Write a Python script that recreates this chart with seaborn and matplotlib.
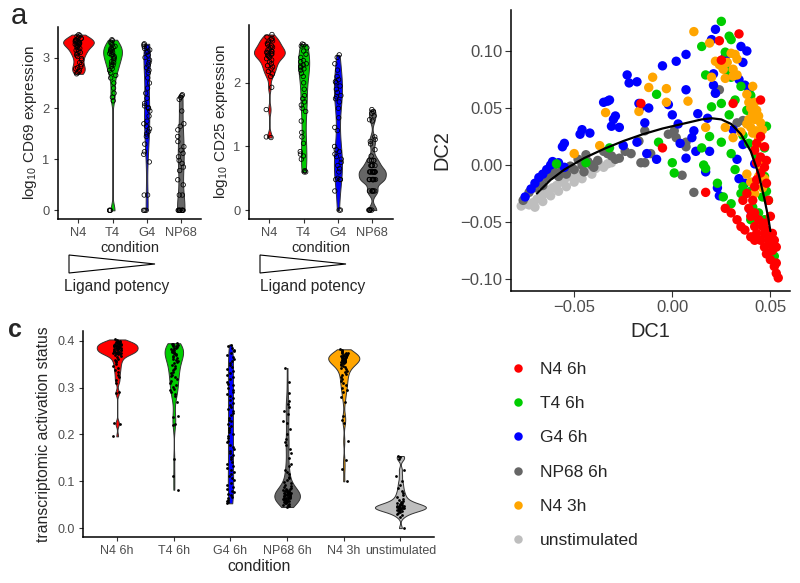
import matplotlib
matplotlib.use("Agg")
import matplotlib.pyplot as plt
import numpy as np
import pandas as pd
import seaborn as sns
from matplotlib.patches import Polygon

# ---------------- data ----------------
potency = ["N4", "T4", "G4", "NP68"]
potency_colors = ["#FF0000", "#00CD00", "#0000FF", "#666666"]

# panel a, log10 CD69
cd69_n4 = [3.45, 3.43, 3.42, 3.40, 3.38, 3.37, 3.35, 3.34, 3.33, 3.32, 3.31, 3.30, 3.30,
           3.29, 3.28, 3.27, 3.26, 3.25, 3.24, 3.22, 3.20, 3.18, 3.16, 3.14, 3.12, 3.10,
           3.08, 3.05, 3.02, 2.98, 2.95, 2.90, 2.86, 2.82, 2.80, 2.78, 2.75, 2.72, 2.70, 2.68]
cd69_t4 = [3.35, 3.33, 3.30, 3.28, 3.25, 3.22, 3.20, 3.18, 3.16, 3.15, 3.13, 3.12, 3.10,
           3.08, 3.06, 3.05, 3.03, 3.00, 2.98, 2.95, 2.92, 2.90, 2.87, 2.85, 2.82, 2.78,
           2.75, 2.70, 2.65, 2.60, 2.50, 2.40, 2.30, 2.22, 2.15, 0.0, 0.0, 0.0]
cd69_g4 = [3.27, 3.25, 3.22, 3.20, 3.18, 3.15, 3.12, 3.10, 3.05, 3.00, 2.95, 2.90, 2.85,
           2.80, 2.75, 2.70, 2.60, 2.50, 2.40, 2.30, 2.20, 2.10, 2.05, 2.02, 2.00, 1.95,
           1.85, 1.75, 1.70, 1.65, 1.60, 1.55, 1.50, 1.45, 1.30, 1.15, 1.10, 0.95, 0.30,
           0.30, 0.0, 0.0, 0.0]
cd69_np68 = [2.27, 2.25, 2.22, 2.18, 1.95, 1.70, 1.65, 1.58, 1.45, 1.35, 1.25, 1.18, 1.12,
             1.05, 0.98, 0.92, 0.85, 0.78, 0.60, 0.50, 0.30, 0.30, 0.0, 0.0, 0.0, 0.0, 0.0,
             0.0, 0.0, 0.0, 0.0]

# panel a, log10 CD25
cd25_n4 = [2.76, 2.72, 2.70, 2.68, 2.66, 2.64, 2.62, 2.60, 2.58, 2.56, 2.55, 2.53, 2.52,
           2.50, 2.49, 2.48, 2.47, 2.46, 2.45, 2.44, 2.43, 2.42, 2.40, 2.38, 2.36, 2.33,
           2.30, 2.27, 2.25, 2.22, 2.18, 2.14, 2.10, 1.93, 1.58, 1.15, 1.14]
cd25_t4 = [2.61, 2.60, 2.58, 2.55, 2.50, 2.45, 2.40, 2.35, 2.33, 2.30, 2.28, 2.26, 2.24,
           2.22, 2.20, 2.15, 2.10, 2.00, 1.90, 1.80, 1.75, 1.70, 1.65, 1.60, 1.55, 1.40,
           1.22, 1.15, 1.05, 0.92, 0.88, 0.85, 0.80, 0.62, 0.60, 0.60]
cd25_g4 = [2.44, 2.40, 2.30, 2.20, 2.10, 2.05, 2.02, 2.00, 1.95, 1.90, 1.85, 1.80, 1.78,
           1.75, 1.70, 1.60, 1.45, 1.30, 1.25, 1.00, 0.95, 0.92, 0.88, 0.84, 0.80, 0.75,
           0.70, 0.65, 0.60, 0.50, 0.48, 0.48, 0.48, 0.30, 0.0, 0.0]
cd25_np68 = [1.58, 1.55, 1.52, 1.48, 1.42, 1.40, 1.15, 1.11, 1.08, 1.04, 0.95, 0.85,
             0.78, 0.78, 0.78, 0.78, 0.70, 0.70, 0.70, 0.70, 0.70, 0.60, 0.60, 0.60, 0.60,
             0.60, 0.60, 0.60, 0.60, 0.60, 0.60, 0.60, 0.60, 0.48, 0.48, 0.48, 0.48, 0.48,
             0.48, 0.48, 0.48, 0.48, 0.48, 0.48, 0.48, 0.30, 0.30, 0.30, 0.30, 0.30, 0.30,
             0.0, 0.0, 0.0, 0.0, 0.0]

# panel c, transcriptomic activation status
conditions = ["N4 6h", "T4 6h", "G4 6h", "NP68 6h", "N4 3h", "unstimulated"]
condition_colors = ["#FF0000", "#00CD00", "#0000FF", "#666666", "#FFA500", "#BEBEBE"]

act_n4_6h = [0.403, 0.401, 0.400, 0.399, 0.398, 0.397, 0.397, 0.396, 0.395, 0.395, 0.394,
             0.393, 0.393, 0.392, 0.391, 0.391, 0.390, 0.389, 0.389, 0.388, 0.387, 0.387,
             0.386, 0.385, 0.385, 0.384, 0.383, 0.383, 0.382, 0.381, 0.381, 0.380, 0.379,
             0.379, 0.378, 0.377, 0.377, 0.376, 0.375, 0.375, 0.374, 0.373, 0.373, 0.372,
             0.371, 0.370, 0.368, 0.365, 0.362, 0.360, 0.357, 0.354, 0.350, 0.346, 0.342,
             0.338, 0.333, 0.328, 0.322, 0.316, 0.311, 0.290, 0.288, 0.225, 0.222, 0.196]
act_t4_6h = [0.395, 0.394, 0.393, 0.392, 0.391, 0.389, 0.388, 0.387, 0.385, 0.384, 0.383,
             0.381, 0.380, 0.379, 0.377, 0.376, 0.375, 0.373, 0.372, 0.371, 0.369, 0.367,
             0.365, 0.363, 0.361, 0.359, 0.357, 0.355, 0.352, 0.349, 0.346, 0.343, 0.340,
             0.337, 0.334, 0.331, 0.328, 0.325, 0.322, 0.318, 0.314, 0.310, 0.306, 0.302,
             0.298, 0.294, 0.290, 0.286, 0.282, 0.270, 0.240, 0.238, 0.222, 0.220, 0.148,
             0.112, 0.082]
act_g4_6h = [0.392, 0.389, 0.385, 0.381, 0.378, 0.373, 0.370, 0.366, 0.361, 0.357, 0.352,
             0.349, 0.344, 0.339, 0.335, 0.331, 0.326, 0.322, 0.318, 0.313, 0.308, 0.305,
             0.300, 0.296, 0.291, 0.287, 0.282, 0.277, 0.273, 0.268, 0.264, 0.259, 0.255,
             0.250, 0.246, 0.241, 0.236, 0.232, 0.228, 0.223, 0.219, 0.214, 0.210, 0.205,
             0.201, 0.196, 0.192, 0.187, 0.183, 0.178, 0.174, 0.169, 0.165, 0.160, 0.156,
             0.151, 0.147, 0.142, 0.138, 0.133, 0.129, 0.124, 0.120, 0.115, 0.111, 0.106,
             0.102, 0.097, 0.093, 0.088, 0.084, 0.080, 0.077, 0.073, 0.070, 0.067, 0.064,
             0.061, 0.058, 0.055, 0.053]
act_np68_6h = [0.342, 0.312, 0.288, 0.272, 0.265, 0.258, 0.250, 0.243, 0.228, 0.225, 0.212,
               0.200, 0.190, 0.185, 0.178, 0.168, 0.160, 0.150, 0.138, 0.132, 0.125, 0.120,
               0.115, 0.110, 0.106, 0.102, 0.099, 0.096, 0.093, 0.090, 0.088, 0.086, 0.084,
               0.083, 0.082, 0.081, 0.080, 0.079, 0.078, 0.077, 0.077, 0.076, 0.075, 0.074,
               0.074, 0.073, 0.072, 0.072, 0.071, 0.070, 0.070, 0.069, 0.068, 0.068, 0.067,
               0.066, 0.066, 0.065, 0.064, 0.064, 0.063, 0.062, 0.062, 0.061, 0.060, 0.060,
               0.059, 0.058, 0.057, 0.056, 0.055, 0.054, 0.053, 0.052, 0.050, 0.049, 0.047,
               0.045]
act_n4_3h = [0.382, 0.380, 0.378, 0.376, 0.375, 0.374, 0.373, 0.372, 0.371, 0.370, 0.369,
             0.368, 0.368, 0.367, 0.366, 0.365, 0.365, 0.364, 0.363, 0.362, 0.362, 0.361,
             0.360, 0.359, 0.359, 0.358, 0.357, 0.356, 0.356, 0.355, 0.354, 0.353, 0.352,
             0.350, 0.348, 0.346, 0.344, 0.342, 0.339, 0.336, 0.333, 0.330, 0.326, 0.322,
             0.318, 0.314, 0.310, 0.305, 0.300, 0.295, 0.290, 0.280, 0.270, 0.240, 0.232,
             0.225, 0.186, 0.145, 0.127, 0.100]
act_unstim = [0.154, 0.151, 0.147, 0.125, 0.112, 0.100, 0.092, 0.085, 0.079, 0.074, 0.070,
              0.066, 0.063, 0.060, 0.058, 0.056, 0.054, 0.053, 0.052, 0.051, 0.050, 0.049,
              0.048, 0.047, 0.047, 0.046, 0.045, 0.045, 0.044, 0.044, 0.043, 0.043, 0.042,
              0.041, 0.041, 0.040, 0.039, 0.038, 0.037, 0.036, 0.035, 0.033, 0.031, 0.028,
              0.024, 0.0]

# diffusion map (DC1, DC2) per condition
dc_n4_6h = [(0.027, -0.038), (0.030, -0.042), (0.033, -0.048), (0.035, -0.054), (0.039, -0.038),
            (0.040, -0.045), (0.042, -0.054), (0.043, -0.060), (0.045, -0.066), (0.047, -0.072),
            (0.048, -0.078), (0.050, -0.083), (0.052, -0.089), (0.053, -0.095), (0.054, -0.099),
            (0.053, -0.086), (0.051, -0.075), (0.049, -0.066), (0.047, -0.060), (0.046, -0.054),
            (0.044, -0.048), (0.042, -0.042), (0.041, -0.031), (0.042, -0.019), (0.043, -0.013),
            (0.045, -0.007), (0.047, -0.002), (0.048, 0.004), (0.042, 0.013), (0.043, 0.019),
            (0.045, 0.025), (0.047, 0.016), (0.045, 0.007), (0.043, 0.002), (0.048, -0.016),
            (0.049, -0.031), (0.050, -0.045), (0.051, -0.060), (0.052, -0.066), (0.053, -0.072),
            (0.050, -0.069), (0.048, -0.057), (0.047, -0.051), (0.037, -0.057), (0.040, -0.063),
            (0.042, -0.066), (0.036, -0.031), (0.038, -0.025), (0.034, 0.115), (0.024, 0.109),
            (0.025, 0.092), (0.031, 0.054), (-0.016, 0.054), (-0.005, 0.015), (0.017, -0.024),
            (0.045, 0.057)]
dc_t4_6h = [(0.025, 0.126), (0.029, 0.113), (0.030, 0.110), (0.015, 0.104), (0.027, 0.099),
            (0.028, 0.083), (0.017, 0.079), (0.030, 0.077), (0.035, 0.069), (0.040, 0.061),
            (-0.008, 0.062), (0.020, 0.051), (0.025, 0.054), (0.032, 0.057), (0.038, 0.048),
            (0.029, 0.044), (-0.007, 0.020), (0.000, 0.002), (0.001, -0.007), (0.015, 0.015),
            (0.019, 0.025), (0.025, 0.020), (0.030, 0.010), (0.016, 0.000), (0.017, -0.003),
            (0.023, -0.016), (0.026, -0.028), (0.030, -0.034), (0.035, -0.025), (0.036, -0.019),
            (0.032, -0.004), (0.043, 0.007), (0.047, 0.015), (0.047, -0.010), (0.048, -0.023),
            (0.049, -0.031), (0.044, -0.042), (0.041, -0.037), (0.050, -0.064), (0.052, -0.080),
            (0.040, -0.023), (0.046, -0.028), (0.040, -0.048), (0.047, -0.048), (-0.059, 0.001),
            (-0.044, 0.002), (-0.032, 0.015), (0.045, 0.029), (0.039, 0.019), (0.048, 0.034),
            (0.036, 0.026)]
dc_g4_6h = [(-0.075, -0.028), (-0.072, -0.021), (-0.070, -0.016), (-0.068, -0.011), (-0.066, -0.008),
            (-0.064, -0.004), (-0.062, 0.000), (-0.061, 0.003), (-0.058, 0.002), (-0.055, -0.002),
            (-0.056, 0.016), (-0.055, 0.019), (-0.047, 0.027), (-0.046, 0.031), (-0.042, 0.028),
            (-0.033, 0.056), (-0.032, 0.057), (-0.035, 0.055), (-0.029, 0.043), (-0.031, 0.034),
            (-0.030, 0.040), (-0.027, 0.033), (-0.025, 0.017), (-0.023, 0.079), (-0.022, 0.072),
            (-0.018, 0.073), (-0.017, 0.054), (-0.016, 0.051), (-0.012, 0.050), (-0.014, 0.037),
            (-0.018, 0.020), (-0.013, 0.010), (-0.005, 0.087), (0.002, 0.091), (0.007, 0.097),
            (0.007, 0.066), (-0.002, 0.053), (0.000, 0.044), (0.003, 0.036), (0.004, 0.019),
            (0.010, 0.024), (0.011, 0.030), (0.013, 0.045), (0.007, 0.006), (0.012, 0.012),
            (0.019, 0.012), (0.018, 0.041), (0.017, -0.006), (-0.008, 0.005), (0.021, 0.080),
            (0.021, 0.070), (0.022, 0.063), (0.026, 0.085), (0.027, 0.095), (0.022, 0.119),
            (0.020, 0.110), (0.035, 0.104), (0.036, 0.090), (0.038, 0.100), (0.034, 0.075),
            (0.037, 0.070), (0.039, 0.065), (0.036, 0.018), (0.033, 0.005), (0.034, -0.012),
            (0.037, -0.016), (0.023, -0.020), (0.024, -0.027), (0.042, 0.001), (0.031, 0.031),
            (0.040, -0.040)]
dc_np68_6h = [(-0.076, -0.031), (-0.073, -0.024), (-0.070, -0.020), (-0.068, -0.014), (-0.066, -0.018),
              (-0.064, -0.011), (-0.062, -0.009), (-0.060, -0.006), (-0.058, -0.010), (-0.056, -0.004),
              (-0.054, -0.008), (-0.052, -0.001), (-0.050, -0.004), (-0.048, 0.005), (-0.046, 0.000),
              (-0.045, -0.006), (-0.043, 0.003), (-0.041, 0.000), (-0.040, -0.002), (-0.038, 0.004),
              (-0.035, 0.012), (-0.033, 0.010), (-0.031, 0.008), (-0.029, 0.005), (-0.027, 0.006),
              (-0.017, 0.021), (-0.014, 0.030), (-0.011, 0.010), (-0.016, 0.002), (-0.014, 0.002),
              (0.001, 0.030), (-0.002, 0.027), (0.002, 0.024), (0.007, 0.020), (0.007, 0.016),
              (0.005, -0.009), (0.011, -0.024), (0.022, 0.063), (0.024, 0.066), (0.036, 0.039),
              (0.033, 0.037), (-0.021, 0.010), (-0.044, 0.009), (-0.024, 0.012)]
dc_n4_3h = [(0.011, 0.117), (0.019, 0.107), (0.022, 0.091), (0.024, 0.088), (0.026, 0.084),
            (0.030, 0.098), (0.032, 0.097), (0.033, 0.093), (0.031, 0.084), (0.033, 0.079),
            (0.020, 0.077), (0.027, 0.076), (-0.012, 0.068), (-0.010, 0.077), (-0.003, 0.067),
            (0.008, 0.056), (-0.003, 0.055), (-0.017, 0.047), (-0.034, 0.046), (-0.037, 0.017),
            (-0.050, 0.010), (0.017, 0.033), (0.027, 0.033), (0.035, 0.029), (0.031, 0.024),
            (0.038, 0.062), (0.039, 0.055), (0.040, 0.050), (0.041, 0.045), (0.042, 0.040),
            (0.043, 0.048), (0.044, 0.043), (0.045, 0.037), (0.038, 0.036), (0.040, 0.033),
            (0.041, 0.028), (0.043, 0.030), (0.039, 0.040), (0.042, 0.055), (0.046, 0.031),
            (0.044, 0.023), (0.041, 0.069), (0.047, 0.003), (0.045, -0.005), (0.044, -0.010),
            (0.040, -0.015), (0.038, -0.008), (0.046, -0.020), (0.042, -0.025), (0.047, -0.012),
            (0.031, 0.078), (0.028, 0.090), (0.043, 0.018)]
dc_unstim = [(-0.077, -0.036), (-0.075, -0.034), (-0.073, -0.035), (-0.071, -0.033), (-0.069, -0.030),
             (-0.067, -0.028), (-0.065, -0.025), (-0.063, -0.022), (-0.061, -0.020), (-0.059, -0.018),
             (-0.057, -0.015), (-0.055, -0.013), (-0.053, -0.010), (-0.051, -0.008), (-0.049, -0.011),
             (-0.047, -0.006), (-0.045, -0.003), (-0.043, -0.005), (-0.041, -0.008), (-0.039, -0.003),
             (-0.037, 0.000), (-0.035, -0.002), (-0.033, 0.001), (-0.031, 0.002), (-0.070, -0.037),
             (-0.066, -0.032), (-0.062, -0.027), (-0.058, -0.023), (-0.054, -0.019), (-0.050, -0.015),
             (-0.046, -0.012)]

# principal curve through the diffusion map
curve_dc1 = [-0.069, -0.062, -0.055, -0.045, -0.035, -0.025, -0.015, -0.005, 0.005, 0.015,
             0.020, 0.025, 0.030, 0.035, 0.040, 0.044, 0.047, 0.049, 0.050]
curve_dc2 = [-0.025, -0.013, -0.004, 0.006, 0.014, 0.021, 0.027, 0.032, 0.036, 0.040,
             0.041, 0.040, 0.036, 0.027, 0.012, -0.008, -0.030, -0.047, -0.058]

dc_ticks = [-0.05, 0.00, 0.05]
dc_tick_labels = ["\u22120.05", "0.00", "0.05"]
dc2_ticks = [-0.10, -0.05, 0.00, 0.05, 0.10]
dc2_tick_labels = ["\u22120.10", "\u22120.05", "0.00", "0.05", "0.10"]

# ---------------- style ----------------
sns.set_style("ticks")
plt.rcParams["font.family"] = ["Liberation Sans", "DejaVu Sans"]
plt.rcParams["mathtext.fontset"] = "custom"
plt.rcParams["mathtext.rm"] = "Liberation Sans"
plt.rcParams["mathtext.it"] = "Liberation Sans:italic"
plt.rcParams["mathtext.bf"] = "Liberation Sans:bold"
np.random.seed(3)

TICK_GREY = "#4D4D4D"


def nrd0(kde):
    # R's default bandwidth (bw.nrd0) expressed as a factor of the sd
    x = kde.dataset[0]
    sd = x.std(ddof=1)
    iqr = np.subtract(*np.percentile(x, [75, 25]))
    lo = min(sd, iqr / 1.34) if iqr > 0 else sd
    return 0.9 * lo * kde.n ** -0.2 / sd


def style_axis(ax, size, length=3.2, pad=2.8):
    sns.despine(ax=ax)
    for s in ["left", "bottom"]:
        ax.spines[s].set_linewidth(1.1)
        ax.spines[s].set_color("black")
    ax.tick_params(labelsize=size, labelcolor=TICK_GREY, color="#333333",
                   length=length, width=0.8, pad=pad)


def violin_panel(ax, df, order, colors, pt_kw, jitter):
    sns.violinplot(data=df, x="condition", y="value", hue="condition", order=order,
                   hue_order=order, palette=colors, density_norm="area", common_norm=True,
                   cut=0, inner=None, width=0.9, linewidth=0.7, linecolor="#333333",
                   saturation=1, bw_method=nrd0, bw_adjust=0.75, legend=False, ax=ax)
    sns.stripplot(data=df, x="condition", y="value", order=order, color="black",
                  jitter=jitter, ax=ax, **pt_kw)
    ax.set_xlim(-0.6, len(order) - 0.4)


def long_df(groups, values):
    return pd.DataFrame({"condition": np.repeat(groups, [len(v) for v in values]),
                         "value": np.concatenate(values)})


fig = plt.figure(figsize=(8, 5.83), dpi=100)

hollow = dict(size=3.2, facecolor="none", edgecolor="black", linewidth=0.55)
dots = dict(size=2.0, edgecolor="black", linewidth=0)

# ---- a: CD69 ----
ax1 = fig.add_axes([0.0725, 0.6244, 0.179, 0.3293])
violin_panel(ax1, long_df(potency, [cd69_n4, cd69_t4, cd69_g4, cd69_np68]),
             potency, potency_colors, hollow, 0.1)
ax1.set_ylim(-0.17, 3.6)
ax1.set_yticks([0, 1, 2, 3])
ax1.set_ylabel(r"log$_{\mathrm{10}}$ CD69 expression", fontsize=11, labelpad=2.5)
ax1.set_xlabel("condition", fontsize=10.5, labelpad=1.5)
style_axis(ax1, 9.3)

# ---- a: CD25 ----
ax2 = fig.add_axes([0.311, 0.6244, 0.18, 0.3328])
violin_panel(ax2, long_df(potency, [cd25_n4, cd25_t4, cd25_g4, cd25_np68]),
             potency, potency_colors, hollow, 0.1)
ax2.set_ylim(-0.14, 2.91)
ax2.set_yticks([0, 1, 2])
ax2.set_ylabel(r"log$_{\mathrm{10}}$ CD25 expression", fontsize=11, labelpad=2.5)
ax2.set_xlabel("condition", fontsize=10.5, labelpad=1.5)
style_axis(ax2, 9.3)

# ligand potency wedges
for x0, xc in [(69, 117), (260, 313)]:
    pts = [(x0, 255), (x0, 273), (x0 + 86, 264)]
    fig.patches.append(Polygon([(px / 800, 1 - py / 583) for px, py in pts], closed=True,
                               facecolor="white", edgecolor="black", linewidth=0.8,
                               transform=fig.transFigure, figure=fig))
    fig.text(xc / 800, 1 - 286 / 583, "Ligand potency", ha="center", va="center",
             fontsize=11.2)

# ---- c: activation status ----
ax3 = fig.add_axes([0.104, 0.0789, 0.439, 0.3533])
violin_panel(ax3, long_df(conditions, [act_n4_6h, act_t4_6h, act_g4_6h, act_np68_6h,
                                       act_n4_3h, act_unstim]),
             conditions, condition_colors, dots, 0.07)
ax3.set_ylim(-0.019, 0.421)
ax3.set_yticks([0.0, 0.1, 0.2, 0.3, 0.4])
ax3.set_yticklabels(["0.0", "0.1", "0.2", "0.3", "0.4"])
ax3.set_ylabel("transcriptomic activation status", fontsize=11.3, labelpad=5)
ax3.set_xlabel("condition", fontsize=11.4, labelpad=1)
style_axis(ax3, 9.0)

# ---- diffusion map ----
dc_groups = [dc_unstim, dc_np68_6h, dc_g4_6h, dc_t4_6h, dc_n4_3h, dc_n4_6h]
dc_names = ["unstimulated", "NP68 6h", "G4 6h", "T4 6h", "N4 3h", "N4 6h"]
dc_df = pd.DataFrame({
    "condition": np.repeat(dc_names, [len(g) for g in dc_groups]),
    "DC1": [p[0] for g in dc_groups for p in g],
    "DC2": [p[1] for g in dc_groups for p in g],
})
ax4 = fig.add_axes([0.639, 0.5009, 0.349, 0.482])
sns.scatterplot(data=dc_df, x="DC1", y="DC2", hue="condition", hue_order=conditions,
                palette=condition_colors, s=46, linewidth=0, ax=ax4)
sns.lineplot(x=curve_dc1, y=curve_dc2, color="black", linewidth=1.6, sort=False,
             estimator=None, ax=ax4)
ax4.set_xlim(-0.0821, 0.0602)
ax4.set_ylim(-0.1105, 0.136)
ax4.set_xticks(dc_ticks, dc_tick_labels)
ax4.set_yticks(dc2_ticks, dc2_tick_labels)
ax4.set_xlabel("DC1", fontsize=14.4, labelpad=5)
ax4.set_ylabel("DC2", fontsize=14.4, labelpad=6)
style_axis(ax4, 12, length=4.1, pad=2.4)
sns.move_legend(ax4, "upper left", bbox_to_anchor=(0.0, -0.252), frameon=False,
                title=None, fontsize=12.5, labelspacing=1.1, handlelength=0.8,
                handletextpad=0.87, borderpad=0, borderaxespad=0, markerscale=0.9)

# panel letters
fig.text(11 / 800, 1 - 16 / 583, "a", fontsize=21, ha="left", va="center")
fig.text(8 / 800, 1 - 330 / 583, "c", fontsize=18, ha="left", va="center",
         fontweight="bold")

fig.savefig("out.png", dpi=100)
